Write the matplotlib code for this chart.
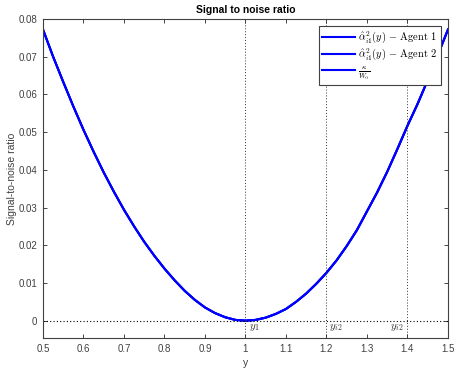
import matplotlib
matplotlib.use('Agg')
import matplotlib.pyplot as plt

# --- values ---
y_grid = [0.500, 0.525, 0.550, 0.575, 0.600, 0.625, 0.650, 0.675, 0.700, 0.725,
          0.750, 0.775, 0.800, 0.825, 0.850, 0.875, 0.900, 0.925, 0.950, 0.975,
          1.000, 1.025, 1.050, 1.075, 1.100, 1.125, 1.150, 1.175, 1.200, 1.225,
          1.250, 1.275, 1.300, 1.325, 1.350, 1.375, 1.400, 1.425, 1.450, 1.475,
          1.500]
snr_agent1 = [0.0772, 0.0700, 0.0633, 0.0568, 0.0506, 0.0448, 0.0393, 0.0342, 0.0294, 0.0250,
              0.0209, 0.0172, 0.0138, 0.0107, 0.0079, 0.0055, 0.0035, 0.0020, 0.0009, 0.0002,
              0.0000, 0.0002, 0.0008, 0.0018, 0.0031, 0.0050, 0.0072, 0.0098, 0.0127, 0.0160,
              0.0198, 0.0240, 0.0290, 0.0340, 0.0395, 0.0455, 0.0517, 0.0575, 0.0638, 0.0705,
              0.0772]
snr_agent2 = list(snr_agent1)
kappa_over_w = list(snr_agent1)

marker_x = [1.0, 1.2, 1.4]
marker_labels = [r'$y_1$', r'$y_{i2}$', r'$y_{i2}$']
label_x = [1.008, 1.205, 1.357]

series_labels = [r'$\hat{\alpha}^2_{i1}(y)\,-\,\mathrm{Agent\ 1}$',
                 r'$\hat{\alpha}^2_{i1}(y)\,-\,\mathrm{Agent\ 2}$',
                 r'$\frac{\kappa}{W_\alpha}$']

plt.rcParams['font.family'] = ['Liberation Sans', 'DejaVu Sans']
plt.rcParams['mathtext.fontset'] = 'cm'

fig = plt.figure(figsize=(4.55, 3.68), dpi=100)
ax = fig.add_axes([0.0945, 0.0815, 0.8901, 0.8669])

blue = '#0000ff'
for data, lab in zip([snr_agent1, snr_agent2, kappa_over_w], series_labels):
    ax.plot(y_grid, data, color=blue, linewidth=1.5, label=lab)

ax.axhline(0, color='black', linestyle=(0, (1, 2)), linewidth=0.8)
for xv in marker_x:
    ax.axvline(xv, color='#333333', linestyle=(0, (1, 2)), linewidth=0.7)
for xv, lab in zip(label_x, marker_labels):
    ax.text(xv, -0.0019, lab, fontsize=8, color='#333333', va='center', ha='left')

ax.set_xlim(0.5, 1.5)
ax.set_ylim(-0.0046, 0.08)
ax.set_xticks([0.5, 0.6, 0.7, 0.8, 0.9, 1.0, 1.1, 1.2, 1.3, 1.4, 1.5])
ax.set_xticklabels(['0.5', '0.6', '0.7', '0.8', '0.9', '1', '1.1', '1.2', '1.3', '1.4', '1.5'])
ax.set_yticks([0, 0.01, 0.02, 0.03, 0.04, 0.05, 0.06, 0.07, 0.08])
ax.set_yticklabels(['0', '0.01', '0.02', '0.03', '0.04', '0.05', '0.06', '0.07', '0.08'])
ax.tick_params(direction='in', top=True, right=True, length=3, width=0.6,
               labelsize=7, colors='#262626', labelcolor='#404040', pad=4)
for sp in ax.spines.values():
    sp.set_color('#404040')
    sp.set_linewidth(0.8)

ax.set_title('Signal to noise ratio', fontsize=7.5, fontweight='bold', pad=4)
ax.set_xlabel('y', fontsize=7.5, color='#404040', labelpad=3)
ax.set_ylabel('Signal-to-noise ratio', fontsize=7.5, color='#404040', labelpad=1)

leg = ax.legend(loc='upper right', fontsize=7.5, fancybox=False, framealpha=1,
                edgecolor='#404040', handlelength=3.2, borderpad=0.3,
                labelspacing=0.15, handletextpad=0.3, borderaxespad=0.7)
leg.get_frame().set_linewidth(0.8)

fig.savefig('out.png', dpi=100)
